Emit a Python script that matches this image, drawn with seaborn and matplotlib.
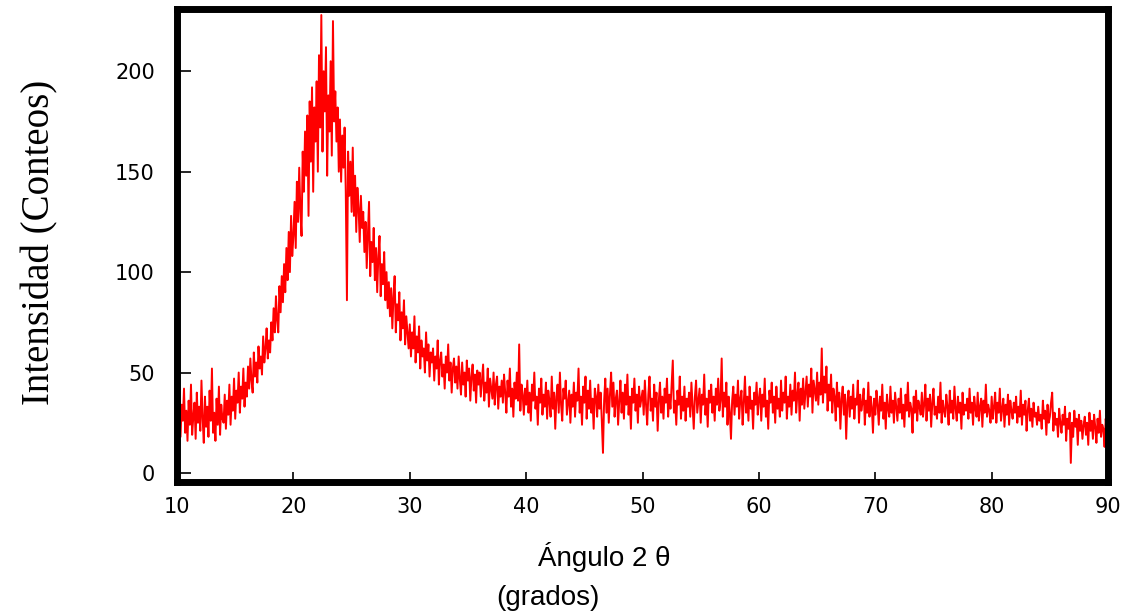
import numpy as np
import pandas as pd
import seaborn as sns
import matplotlib.pyplot as plt

# scan range (2 theta, degrees), step 0.1
start_angle = 10.0
step = 0.1

# counts, one row per 2 degrees
counts = [
    30, 22, 38, 18, 34, 26, 42, 20, 31, 16, 36, 24, 44, 19, 28, 35, 17, 40, 25, 33,      # 10-12
    21, 46, 27, 15, 38, 23, 33, 18, 41, 26, 52, 20, 30, 16, 37, 24, 43, 19, 34, 27,      # 12-14
    25, 39, 22, 36, 29, 44, 24, 38, 31, 47, 27, 41, 35, 50, 30, 43, 37, 52, 33, 45,      # 14-16
    38, 53, 42, 57, 46, 40, 60, 48, 55, 45, 63, 52, 58, 49, 68, 55, 62, 72, 57, 66,      # 16-18
    60, 75, 66, 82, 70, 88, 76, 70, 93, 80, 98, 85, 104, 90, 112, 96, 120, 100, 128, 108,  # 18-20
    118, 135, 112, 145, 125, 152, 130, 118, 160, 140, 170, 148, 178, 128, 185, 155, 192, 140, 182, 165,  # 20-22
    195, 150, 208, 172, 228, 160, 200, 180, 212, 148, 188, 170, 205, 158, 225, 175, 190, 165, 182, 150,  # 22-24
    176, 145, 168, 152, 172, 140, 86, 160, 138, 155, 130, 162, 128, 148, 120, 142, 132, 115, 138, 122,   # 24-26
    130, 110, 125, 102, 118, 135, 98, 115, 105, 122, 96, 112, 90, 108, 118, 88, 104, 94, 110, 86,       # 26-28
    100, 82, 95, 78, 92, 72, 88, 98, 70, 84, 76, 90, 66, 80, 72, 86, 64, 78, 70, 62,     # 28-30
    74, 58, 70, 62, 78, 55, 68, 60, 73, 52, 66, 58, 62, 50, 70, 56, 64, 48, 60, 55,      # 30-32
    62, 46, 58, 52, 66, 44, 56, 60, 48, 54, 42, 58, 50, 64, 46, 55, 40, 52, 57, 45,      # 32-34
    53, 42, 58, 47, 39, 55, 44, 50, 38, 56, 46, 52, 36, 48, 54, 41, 49, 35, 51, 44,      # 34-36
    50, 38, 46, 54, 36, 45, 40, 52, 33, 47, 42, 37, 50, 34, 44, 48, 32, 43, 38, 46,      # 36-38
    35, 49, 40, 30, 46, 38, 52, 33, 42, 28, 45, 37, 50, 36, 64, 31, 44, 39, 29, 42,      # 38-40
    34, 46, 30, 40, 26, 44, 36, 50, 32, 38, 24, 42, 35, 47, 29, 39, 33, 45, 27, 41,      # 40-42
    36, 28, 48, 32, 40, 22, 38, 44, 30, 50, 34, 26, 42, 37, 46, 29, 35, 41, 25, 39,      # 42-44
    33, 45, 28, 40, 36, 52, 30, 38, 24, 43, 35, 48, 27, 41, 32, 46, 30, 37, 22, 42,      # 44-46
    38, 28, 44, 32, 40, 26, 10, 36, 47, 30, 42, 25, 39, 50, 33, 45, 28, 37, 41, 24,      # 46-48
    36, 46, 30, 40, 27, 44, 34, 49, 29, 38, 22, 42, 35, 47, 31, 39, 25, 43, 33, 37,      # 48-50
    41, 29, 46, 34, 24, 39, 48, 31, 37, 26, 44, 33, 40, 21, 36, 45, 30, 38, 27, 42,      # 50-52
    35, 47, 28, 39, 32, 44, 56, 30, 36, 24, 41, 34, 48, 27, 38, 31, 43, 26, 37, 33,      # 52-54
    40, 28, 45, 33, 22, 38, 46, 30, 36, 42, 25, 39, 34, 49, 29, 37, 23, 41, 35, 44,      # 54-56
    30, 38, 26, 42, 34, 47, 31, 36, 57, 28, 40, 33, 45, 24, 38, 30, 17, 36, 43, 29,      # 56-58
    39, 33, 46, 27, 37, 41, 24, 35, 48, 30, 38, 26, 43, 32, 36, 22, 40, 34, 45, 29,      # 58-60
    37, 42, 26, 39, 33, 47, 28, 36, 22, 41, 35, 45, 30, 38, 25, 43, 32, 37, 28, 46,      # 60-62
    31, 40, 35, 48, 27, 38, 33, 44, 29, 41, 36, 50, 30, 39, 45, 26, 42, 34, 47, 32,      # 62-64
    40, 48, 33, 44, 38, 52, 30, 46, 41, 36, 50, 34, 45, 39, 62, 35, 48, 40, 53, 31,      # 64-66
    44, 36, 49, 30, 42, 38, 26, 45, 33, 40, 22, 37, 43, 29, 39, 17, 35, 41, 28, 38,      # 66-68
    32, 44, 27, 37, 34, 46, 25, 39, 31, 35, 42, 24, 36, 30, 45, 28, 38, 33, 20, 37,      # 68-70
    29, 41, 34, 24, 38, 31, 44, 27, 35, 22, 39, 32, 28, 43, 30, 36, 25, 40, 33, 26,      # 70-72
    37, 30, 42, 27, 34, 23, 39, 31, 45, 28, 35, 32, 20, 38, 30, 41, 26, 36, 33, 29,      # 72-74
    40, 28, 34, 44, 26, 37, 31, 39, 23, 35, 42, 29, 33, 27, 38, 30, 45, 25, 36, 31,      # 74-76
    28, 39, 33, 24, 41, 30, 36, 27, 43, 32, 26, 38, 30, 35, 22, 40, 29, 34, 31, 37,      # 76-78
    27, 42, 30, 35, 24, 38, 32, 28, 40, 26, 33, 37, 23, 36, 30, 44, 28, 34, 31, 25,      # 78-80
    38, 27, 33, 40, 25, 35, 30, 42, 26, 32, 37, 23, 34, 29, 39, 24, 36, 31, 27, 35,      # 80-82
    30, 38, 25, 33, 28, 41, 24, 34, 29, 36, 21, 31, 37, 26, 32, 23, 35, 28, 30, 24,      # 82-84
    33, 26, 29, 22, 36, 27, 31, 19, 34, 25, 28, 35, 40, 21, 30, 24, 27, 18, 32, 25,      # 84-86
    20, 29, 24, 33, 16, 27, 22, 30, 5, 25, 18, 31, 23, 27, 14, 29, 21, 26, 17, 24,       # 86-88
    28, 19, 25, 14, 30, 21, 26, 17, 29, 23, 15, 27, 20, 31, 18, 24, 22, 13, 27, 19,      # 88-90
    23,
]

x_ticks = [10, 20, 30, 40, 50, 60, 70, 80, 90]
y_ticks = [0, 50, 100, 150, 200]

angles = np.round(start_angle + step * np.arange(len(counts)), 2)
df = pd.DataFrame({'angle': angles, 'counts': counts})

sns.set_style('white')
plt.rcParams['font.family'] = ['DejaVu Sans']
plt.rcParams['text.color'] = 'black'
plt.rcParams['xtick.color'] = 'black'
plt.rcParams['ytick.color'] = 'black'

fig = plt.figure(figsize=(11.48, 6.13), dpi=100)
ax = fig.add_axes([0.1542, 0.2137, 0.8110, 0.7716])

sns.lineplot(data=df, x='angle', y='counts', color='#ff0000', linewidth=1.4, ax=ax)

ax.set_xlim(10, 90)
ax.set_ylim(-4.5, 231)
ax.set_xticks(x_ticks)
ax.set_yticks(y_ticks)
ax.set_xlabel('')
ax.set_ylabel('')

for s in ax.spines.values():
    s.set_visible(True)
    s.set_color('black')
    s.set_linewidth(5)

ax.tick_params(axis='y', direction='in', length=10, width=1.2, pad=16,
               labelsize=15, left=True, right=False)
ax.tick_params(axis='x', direction='in', length=7, width=1.2, pad=11,
               labelsize=15, bottom=True, top=False)

fig.text(0.035, 0.604, 'Intensidad (Conteos)', rotation=90, ha='center', va='center',
         family='Liberation Serif', fontsize=28)
fig.text(0.526, 0.092, 'Ángulo 2 θ', ha='center', va='center',
         family='Liberation Sans', fontsize=20)
fig.text(0.477, 0.025, '(grados)', ha='center', va='center',
         family='Liberation Sans', fontsize=20)

fig.savefig('out.png', dpi=100)
